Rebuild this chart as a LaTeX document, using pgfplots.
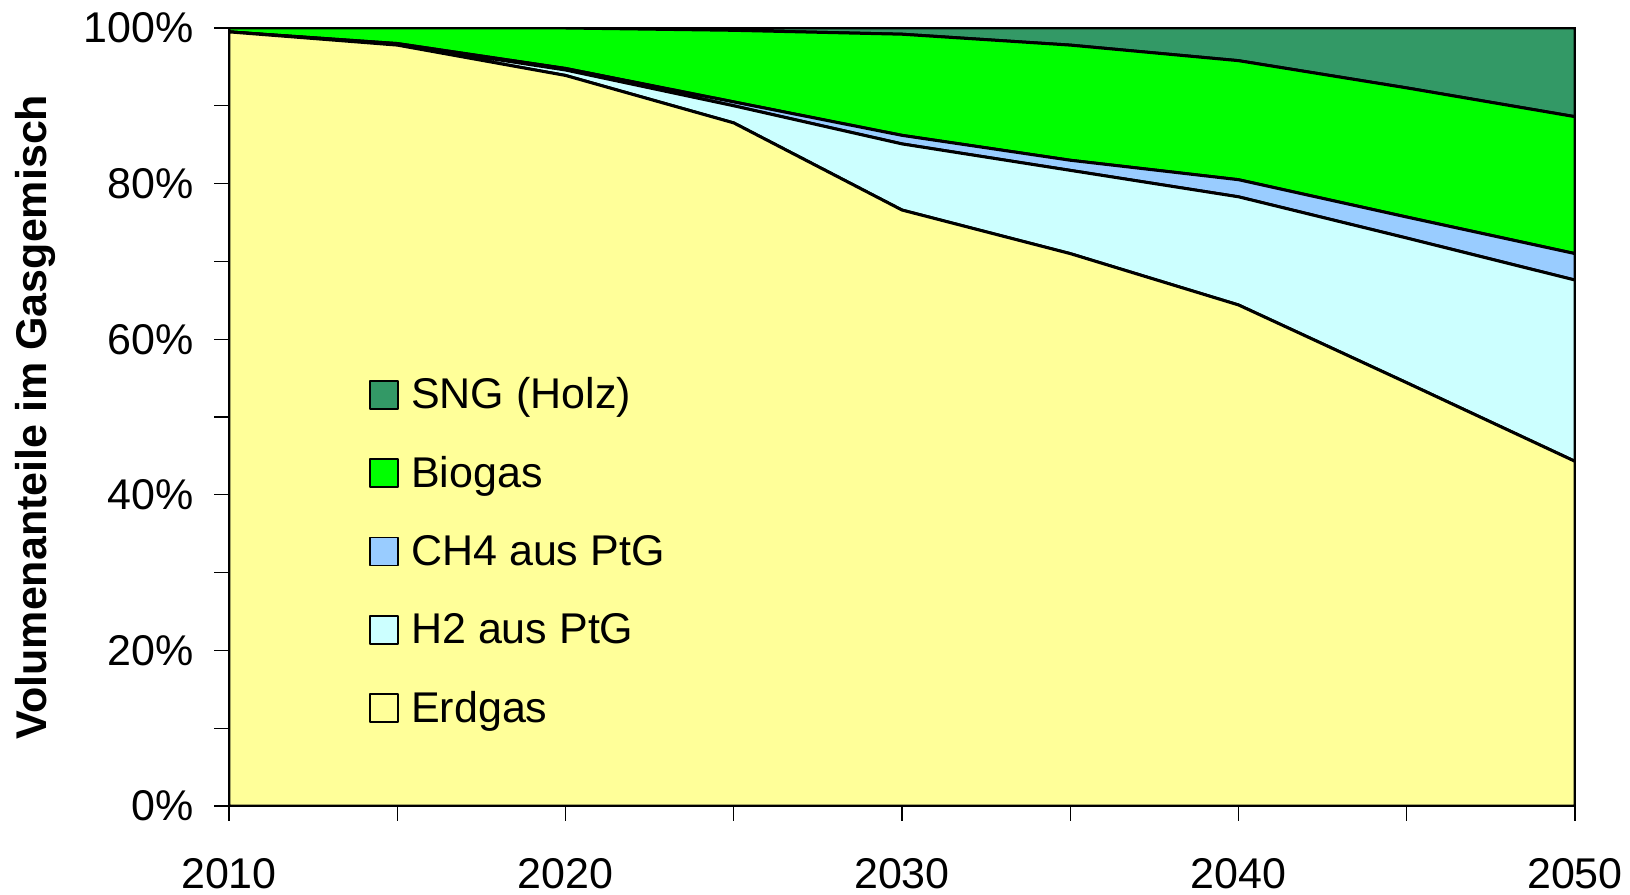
\documentclass[border=0pt]{standalone}
\usepackage{fontspec}
\setmainfont{Liberation Sans}
\usepackage{pgfplots}
\pgfplotsset{compat=1.18}

\definecolor{erdgas}{HTML}{FFFF99}
\definecolor{htwo}{HTML}{CCFFFF}
\definecolor{chfour}{HTML}{99CCFF}
\definecolor{biogas}{HTML}{00FF00}
\definecolor{sng}{HTML}{339966}

\newcommand{\chartfont}{\fontsize{21.5}{26}\selectfont}

\begin{document}
\begin{tikzpicture}
\begin{axis}[
  name=ax, at={(0,0)}, anchor=south west,
  scale only axis, width=673pt, height=389pt,
  xmin=2010, xmax=2050, ymin=0, ymax=100,
  stack plots=y,
  axis on top,
  xtick={2010,2015,...,2050},
  xticklabels={2010,,2020,,2030,,2040,,2050},
  ytick={0,10,...,100},
  yticklabels={0\%,,20\%,,40\%,,60\%,,80\%,,100\%},
  tick align=outside, xtick pos=bottom, ytick pos=left,
  major tick length=7.5pt,
  every tick/.style={black, line width=0.6pt},
  axis line style={black, line width=1pt},
  ticklabel style={font=\chartfont, inner sep=0pt},
  xticklabel style={anchor=north, yshift=-18.5pt},
  yticklabel style={anchor=east, xshift=-10pt},
  ylabel={Volumenanteile im Gasgemisch},
  ylabel style={font=\chartfont\bfseries, at={(axis description cs:-0.1440,0.5)}, anchor=center, inner sep=0pt},
  legend style={at={(axis description cs:0.104,0.5511)}, anchor=north west,
    draw=none, fill=none, inner sep=0pt, row sep=19.2pt, column sep=6pt,
    font=\chartfont, nodes={inner sep=0pt, text height=15.5pt, text depth=4.5pt}},
  legend cell align=left,
  reverse legend,
  legend image code/.code={\draw[#1, line width=0.9pt] (0pt,-5.55pt) rectangle (14pt,8.45pt);},
  every axis plot/.append style={draw=black, line width=1.5pt, line join=round},
]
% Erdgas
\addplot[fill=erdgas] coordinates {(2010,99.5)(2015,97.8)(2020,93.9)(2025,87.8)(2030,76.6)(2035,71.0)(2040,64.4)(2045,54.4)(2050,44.3)} \closedcycle;
% H2 aus PtG
\addplot[fill=htwo] coordinates {(2010,0.0)(2015,0.1)(2020,0.7)(2025,2.2)(2030,8.5)(2035,10.7)(2040,13.9)(2045,18.6)(2050,23.3)} \closedcycle;
% CH4 aus PtG
\addplot[fill=chfour] coordinates {(2010,0.0)(2015,0.1)(2020,0.2)(2025,0.5)(2030,1.1)(2035,1.3)(2040,2.2)(2045,2.7)(2050,3.4)} \closedcycle;
% Biogas
\addplot[fill=biogas] coordinates {(2010,0.5)(2015,2.0)(2020,5.2)(2025,9.2)(2030,13.0)(2035,14.8)(2040,15.3)(2045,16.6)(2050,17.6)} \closedcycle;
% SNG aus Holz
\addplot[fill=sng] coordinates {(2010,0.0)(2015,0.0)(2020,0.0)(2025,0.3)(2030,0.8)(2035,2.2)(2040,4.2)(2045,7.7)(2050,11.4)} \closedcycle;
\legend{Erdgas, H2 aus PtG, CH4 aus PtG, Biogas, SNG (Holz)}
\end{axis}
\pgfresetboundingbox
\useasboundingbox (-114.5pt,-44.5pt) rectangle (700.5pt,403pt);
\end{tikzpicture}
\end{document}
